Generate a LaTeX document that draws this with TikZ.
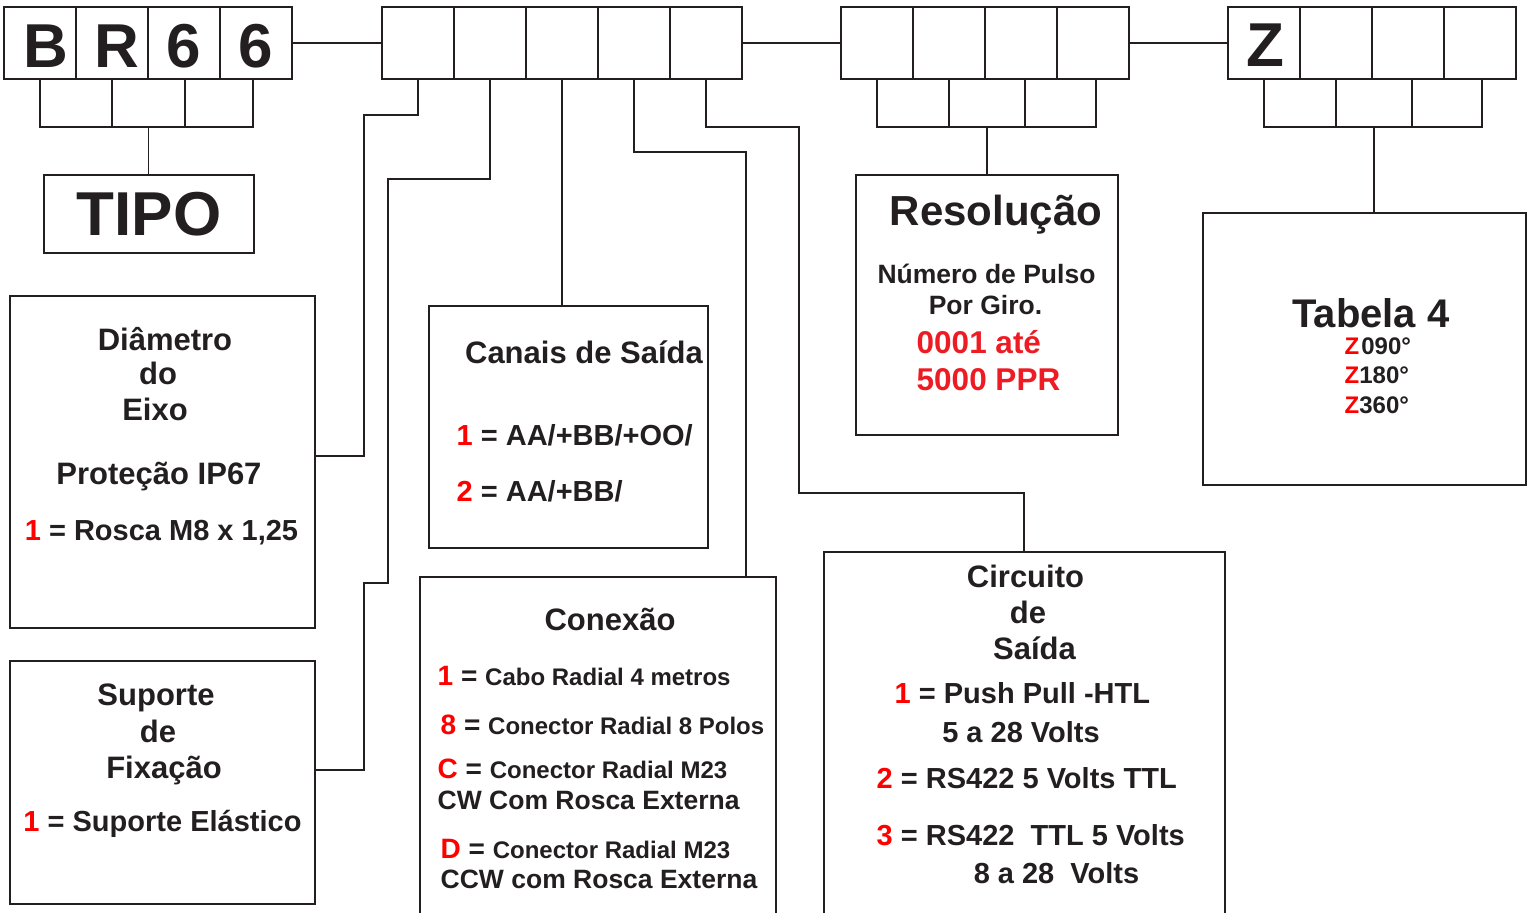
\documentclass[tikz,border=0pt]{standalone}
\usepackage{fontspec}
\setmainfont{Liberation Sans}
\usepackage{tikz}

\definecolor{tinta}{RGB}{35,31,32}
\definecolor{vermelho}{RGB}{255,0,0}
\definecolor{vermelhob}{RGB}{237,28,36}
\newcommand{\tam}[1]{\fontsize{#1}{#1}\selectfont\bfseries}
\newcommand{\ver}[1]{\textcolor{vermelho}{#1}}

\begin{document}
\begin{tikzpicture}[x=1pt,y=-1pt,line width=1.4pt,color=tinta,
    cell/.style={draw,line width=1.8pt,minimum width=72,minimum height=72,inner sep=0,outer sep=0},
    lowcell/.style={draw,line width=1.8pt,minimum height=48,inner sep=0,outer sep=0},
    panel/.style={draw,inner sep=0,outer sep=0},
    txt/.style={anchor=base,inner sep=0},
    lst/.style={anchor=base west,inner sep=0}]
    \useasboundingbox (0,0) rectangle (1527,913);

    \foreach \n/\x/\w in {bl1/76/72,bl2/148.5/73,bl3/219/68,
                          rl1/913/72,rl2/987/76,rl3/1060.5/71,
                          zl1/1300/72,zl2/1374/76,zl3/1447/70}
        \node[lowcell,minimum width=\w] (\n) at (\x,103) {};

    \foreach \i/\x in {1/40,2/112,3/184,4/256}
        \node[cell] (br\i) at (\x,43) {};
    \foreach \i/\x in {1/418,2/490,3/562,4/634,5/706}
        \node[cell] (m\i) at (\x,43) {};
    \foreach \i/\x in {1/877,2/949,3/1021,4/1093}
        \node[cell] (r\i) at (\x,43) {};
    \foreach \i/\x in {1/1264,2/1336,3/1408,4/1480}
        \node[cell] (z\i) at (\x,43) {};

    \node[txt,font=\tam{62}] (lb) at (46,67) {B};
    \node[txt,font=\tam{62}] (lr) at (117,67) {R};
    \node[txt,font=\tam{62}] (l6a) at (184,67) {6};
    \node[txt,font=\tam{62}] (l6b) at (256,67) {6};
    \node[txt,font=\tam{62}] (lz) at (1265,66) {Z};

    \node[panel,minimum width=210,minimum height=78,font=\tam{62}] (tipo) at (149,214) {TIPO};
    \node[panel,minimum width=305,minimum height=332] (diam) at (162.5,462) {};
    \node[panel,minimum width=305,minimum height=243] (sup) at (162.5,782.5) {};
    \node[panel,minimum width=279,minimum height=242] (canais) at (568.5,427) {};
    \node[panel,minimum width=356,minimum height=338] (conex) at (598,746) {};
    \node[panel,minimum width=401,minimum height=363] (circ) at (1024.5,733.5) {};
    \node[panel,minimum width=262,minimum height=260] (res) at (987,305) {};
    \node[panel,minimum width=323,minimum height=272] (tab) at (1364.5,349) {};

    \draw (br4.east) -- (m1.west);
    \draw (m5.east) -- (r1.west);
    \draw (r4.east) -- (z1.west);
    \draw (bl2.south) -- (bl2.south |- tipo.north);
    \draw (rl2.south) -- (res.north);
    \draw (zl2.south) -- (zl2.south |- tab.north);

    \coordinate (d1) at (364,115);
    \coordinate (d2) at (364,456);
    \draw (m1.south) |- (d1) -- (d2) -- (d2 -| diam.east);
    \coordinate (s1) at (388,179);
    \coordinate (s2) at (388,583);
    \coordinate (s3) at (364,583);
    \coordinate (s4) at (364,770);
    \draw (m2.south) |- (s1) -- (s2) -- (s3) -- (s4) -- (s4 -| sup.east);
    \draw (m3.south) -- (m3.south |- canais.north);
    \coordinate (k4) at (746,152);
    \draw (m4.south) |- (k4) -- (k4 |- conex.north);
    \coordinate (k5a) at (799,127);
    \coordinate (k5b) at (1024,493);
    \draw (m5.south) |- (k5a) |- (k5b) -- (k5b |- circ.north);

    \node[txt,font=\tam{31}] (dia1) at (165,350) {Diâmetro};
    \node[txt,font=\tam{31}] (dia2) at (158,384) {do};
    \node[txt,font=\tam{31}] (dia3) at (155,420) {Eixo};
    \node[txt,font=\tam{31}] (dia4) at (159,484) {Proteção IP67};
    \node[txt,font=\tam{29}] (dia5) at (161.5,540) {\ver{1} = Rosca M8 x 1,25};

    \node[txt,font=\tam{31}] (sup1) at (156,705) {Suporte};
    \node[txt,font=\tam{31}] (sup2) at (158,742) {de};
    \node[txt,font=\tam{31}] (sup3) at (164,778) {Fixação};
    \node[txt,font=\tam{29}] (sup4) at (162.5,831) {\ver{1} = Suporte Elástico};

    \node[txt,font=\tam{31}] (can1) at (584,363) {Canais de Saída};
    \node[lst,font=\tam{29}] (can2) at (456,445) {\ver{1} = AA/+BB/+OO/};
    \node[lst,font=\tam{29}] (can3) at (456,501) {\ver{2} = AA/+BB/};

    \node[txt,font=\tam{31}] (con1) at (610,630) {Conexão};
    \node[lst,font=\tam{28}] (con2) at (437,685) {\ver{1} = {\tam{24}Cabo Radial 4 metros}};
    \node[lst,font=\tam{28}] (con3) at (440,734) {\ver{8} = {\tam{24}Conector Radial 8 Polos}};
    \node[lst,font=\tam{28}] (con4) at (437,778) {\ver{C} = {\tam{24}Conector Radial M23}};
    \node[lst,font=\tam{26.5}] (con5) at (437,809) {CW Com Rosca Externa};
    \node[lst,font=\tam{28}] (con6) at (440,858) {\ver{D} = {\tam{24}Conector Radial M23}};
    \node[lst,font=\tam{26.5}] (con7) at (440,888) {CCW com Rosca Externa};

    \node[txt,font=\tam{31}] (cir1) at (1025.5,587) {Circuito};
    \node[txt,font=\tam{31}] (cir2) at (1028,623) {de};
    \node[txt,font=\tam{31}] (cir3) at (1034.5,659) {Saída};
    \node[lst,font=\tam{29}] (cir4) at (894,703) {\ver{1} = Push Pull -HTL};
    \node[txt,font=\tam{29}] (cir5) at (1021,742) {5 a 28 Volts};
    \node[lst,font=\tam{29}] (cir6) at (876,788) {\ver{2} = RS422 5 Volts TTL};
    \node[lst,font=\tam{29}] (cir7) at (876,845) {\ver{3} = RS422\ \ TTL 5 Volts};
    \node[txt,font=\tam{29}] (cir8) at (1056.5,883) {8 a 28\ \ Volts};

    \node[txt,font=\tam{42}] (res1) at (996,225) {Resolução};
    \node[txt,font=\tam{26.5}] (res2) at (986.5,283) {Número de Pulso};
    \node[txt,font=\tam{26.5}] (res3) at (985.5,314) {Por Giro.};
    \node[lst,font=\tam{31.5},text=vermelhob] (res4) at (916,353) {0001 até};
    \node[lst,font=\tam{31.5},text=vermelhob] (res5) at (916,390) {5000 PPR};

    \node[txt,font=\tam{40}] (tab1) at (1371,327) {Tabela 4};
    \node[lst,font=\tam{24}] (tab2) at (1344,354) {\ver{Z}\kern2pt 090°};
    \node[lst,font=\tam{24}] (tab3) at (1344,383) {\ver{Z}180°};
    \node[lst,font=\tam{24}] (tab4) at (1344,413) {\ver{Z}360°};
\end{tikzpicture}
\end{document}
